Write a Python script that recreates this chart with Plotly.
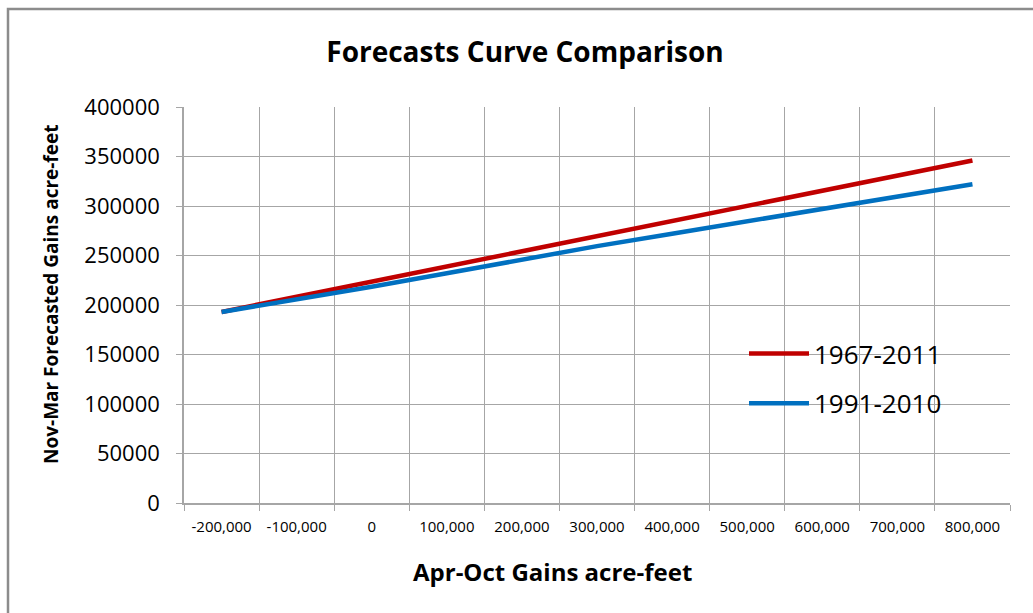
import plotly.graph_objects as go

x_labels = ["-200,000", "-100,000", "0", "100,000", "200,000", "300,000",
            "400,000", "500,000", "600,000", "700,000", "800,000"]
series_1967_2011 = [193000, 208300, 223600, 238900, 254200, 269500,
                    284800, 300100, 315400, 330700, 346000]
series_1991_2010 = [193000, 205500, 218500, 232000, 246000, 259500,
                    272000, 284500, 297000, 309500, 322000]

FONT = "Open Sans"
GRID = "#a6a6a6"

fig = go.Figure()
fig.add_trace(go.Scatter(x=x_labels, y=series_1967_2011, mode="lines",
                         name="1967-2011", legendgroup="a",
                         line=dict(color="#C00000", width=4.5)))
fig.add_trace(go.Scatter(x=x_labels, y=series_1991_2010, mode="lines",
                         name="1991-2010", legendgroup="b",
                         line=dict(color="#0070C0", width=4.5)))

W, H = 1033, 613
L, R, T, B = 184, 23, 107, 110
pw, ph = W - L - R, H - T - B

def px(xp):
    return (xp - L) / pw

def py(yp):
    return 1 - (yp - T) / ph

fig.update_layout(
    width=W, height=H,
    margin=dict(l=L, r=R, t=T, b=B),
    paper_bgcolor="white", plot_bgcolor="white",
    font=dict(family=FONT, color="black"),
    title=dict(text="<b>Forecasts Curve Comparison</b>", x=525 / W, xanchor="center",
               y=1 - 52 / H, yanchor="middle", font=dict(size=28, family=FONT)),
    showlegend=True,
    legend=dict(x=px(744), y=py(330), xanchor="left", yanchor="top",
                bgcolor="rgba(0,0,0,0)", font=dict(size=26, family=FONT),
                tracegroupgap=13, itemwidth=60),
    xaxis=dict(type="category", tickson="boundaries", showgrid=True, gridcolor=GRID,
               gridwidth=1, showline=True, linecolor=GRID, linewidth=1.5,
               ticks="outside", ticklen=6, tickcolor=GRID, ticklabelstandoff=9,
               tickfont=dict(size=15, family=FONT), range=[-0.5, 10.5]),
    yaxis=dict(range=[0, 400000], dtick=50000, showgrid=True, gridcolor=GRID,
               gridwidth=1, showline=True, linecolor=GRID, linewidth=1.5,
               ticks="outside", ticklen=6, tickcolor=GRID, tickformat="d",
               ticklabelstandoff=12,
               tickfont=dict(size=22, family=FONT), zeroline=False),
    annotations=[
        dict(text="<b>Apr-Oct Gains acre-feet</b>", xref="paper", yref="paper",
             x=px(552), y=py(571), xanchor="center", yanchor="middle", showarrow=False,
             font=dict(size=24, family=FONT)),
        dict(text="<b>Nov-Mar Forecasted Gains acre-feet</b>", xref="paper", yref="paper",
             x=px(51), y=py(295), xanchor="center", yanchor="middle", showarrow=False,
             textangle=-90, font=dict(size=19, family=FONT)),
    ],
)

# outer chart-area border (extends beyond canvas at right/bottom like the reference)
fig.add_shape(type="rect", xref="paper", yref="paper",
              x0=px(8), x1=px(1060), y0=py(650), y1=py(9),
              line=dict(color="#8c8c8c", width=2.5), fillcolor="rgba(0,0,0,0)", layer="below")

fig.write_html("out.html", config={"displayModeBar": False},
               post_script="document.body.style.margin='0';")
